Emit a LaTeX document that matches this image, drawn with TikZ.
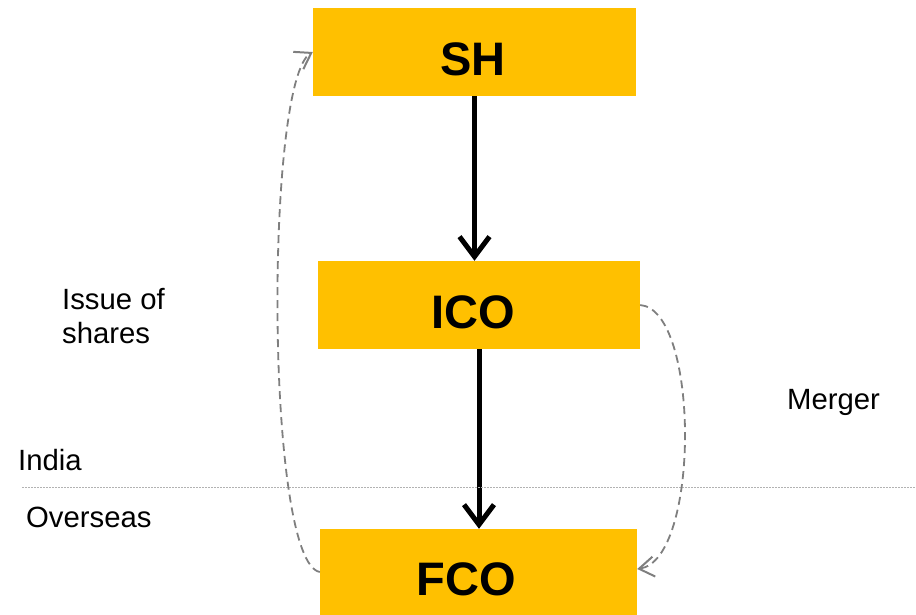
\documentclass[tikz,border=0pt]{standalone}
\usepackage{fontspec}
\setmainfont{Liberation Sans}
\usetikzlibrary{arrows.meta}
\definecolor{boxyellow}{HTML}{FFC000}
\definecolor{dashgray}{HTML}{7F7F7F}
\begin{document}
\begin{tikzpicture}[x=1pt,y=-1pt,
  entity/.style={fill=boxyellow, draw=none, inner sep=0pt, text height=46pt, text depth=0pt,
    font=\fontsize{47}{56}\selectfont\bfseries},
  flow/.style={line width=5pt, -{Straight Barb[length=20pt,width=30pt]}},
  link/.style={dashgray, line width=1.8pt, dash pattern=on 8pt off 5pt,
    -{Straight Barb[length=15pt,width=20pt,line width=2pt]}},
  lbl/.style={font=\fontsize{29.3}{34}\selectfont, inner sep=0pt}]
\useasboundingbox (0,0) rectangle (916,614);
\node[entity, minimum width=323pt, minimum height=88pt] (sh) at (474.5,52) {\hspace*{-3pt}SH};
\node[entity, minimum width=322pt, minimum height=88pt] (ico) at (479,305) {\hspace*{-12pt}ICO};
\node[entity, minimum width=317pt, minimum height=86pt] (fco) at (478.5,572) {\hspace*{-24pt}FCO};
\draw[flow] (sh.south) -- (sh.south |- ico.north);
\draw[flow] (ico.south) -- (ico.south |- fco.north);
\coordinate (sepL) at (22,487);
\coordinate (sepR) at (916,487);
\draw[black!30, line width=0.8pt, dash pattern=on 2pt off 1pt] (sepL) -- (sepR);
\draw[link] (fco.west) .. controls (265,562) and (265,80) .. (sh.west);
\draw[link] (ico.east) .. controls (700,310) and (700,560) .. ([yshift=3pt]fco.east);
\node[lbl, anchor=north west, align=left] (issue) at (62,288) {Issue of\\shares};
\node[lbl, anchor=base west] (merger) at (787,409) {Merger};
\node[lbl, anchor=base west] (india) at (18,470) {India};
\node[lbl, anchor=base west] (overseas) at (26,527) {Overseas};
\end{tikzpicture}
\end{document}
